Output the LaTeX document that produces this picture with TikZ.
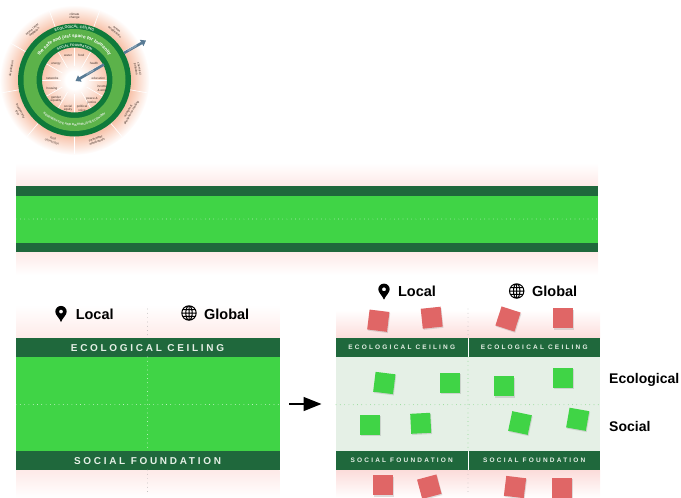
\documentclass[tikz,border=0pt]{standalone}
\usepackage{fontspec}
\setmainfont{Liberation Sans}
\usetikzlibrary{arrows.meta}
\usetikzlibrary{decorations.text}
\usetikzlibrary{shadows}
\definecolor{mydarkgreen}{RGB}{31,104,60}
\definecolor{mygreen}{RGB}{64,212,70}
\definecolor{mypalegreen}{RGB}{229,240,230}
\definecolor{mydotgreen}{RGB}{90,205,95}
\definecolor{myred}{RGB}{224,102,102}
\definecolor{mypink}{RGB}{254,234,232}
\definecolor{mydeeppink}{RGB}{252,220,218}
\definecolor{myringdark}{RGB}{15,122,58}
\definecolor{myringmid}{RGB}{92,178,74}
\definecolor{mypetal}{RGB}{248,196,172}
\definecolor{myarrow}{RGB}{88,122,148}
\definecolor{mylabel}{RGB}{70,52,44}
\definecolor{mybanner}{RGB}{230,240,230}
\pgfdeclareradialshading{petalglow}{\pgfpointorigin}{color(0bp)=(white); color(3bp)=(white); color(11bp)=(mypetal); color(19bp)=(mypetal); color(25bp)=(white)}
\newcommand{\widthpanel}{264}
\newcommand{\widthcell}{131.5}
\newcommand{\heightbanner}{18.6}
\newcommand{\sizesquare}{20}
\tikzset{
    x=1pt, y=1pt,
    common/.style={draw=none, rectangle, inner sep=0pt, outer sep=0pt},
    banner/.style={common, fill=mydarkgreen, text=mybanner, minimum height=\heightbanner},
    bigbanner/.style={banner, minimum width=\widthpanel, font=\addfontfeature{LetterSpace=27}\fontsize{10}{10}\selectfont\bfseries},
    smallbanner/.style={banner, minimum width=\widthcell, font=\addfontfeature{LetterSpace=34}\fontsize{6.5}{6.5}\selectfont\bfseries},
    strip/.style={common, fill=mydarkgreen, minimum width=582, minimum height=9.6},
    field/.style={common, fill=mygreen},
    square/.style={common, minimum size=\sizesquare, drop shadow={shadow xshift=.8, shadow yshift=-1.2, opacity=.25}},
    redsquare/.style={square, fill=myred},
    greensquare/.style={square, fill=mygreen},
    heading/.style={inner sep=0pt, font=\fontsize{14.5}{14.5}\selectfont\bfseries},
    gridline/.style={line width=.7, line cap=round, dash pattern=on 0pt off 4.3},
    petallabel/.style={inner sep=0pt, align=center, text=mylabel, font=\fontsize{3.1}{3.5}\selectfont},
    pics/pinmark/.style={code={
        \fill[even odd rule] (0,-8) .. controls (-1.5,-4) and (-5.7,-1) .. (-5.7,2.4) arc (180:0:5.7) .. controls (5.7,-1) and (1.5,-4) .. (0,-8) (0,2.4) circle (2);
    }},
    pics/globemark/.style={code={
        \draw[line width=1] (0,0) circle (7.2) (0,0) ellipse (3.2 and 7.2) (0,-7.2) -- (0,7.2)
            (-7.2,0) -- (7.2,0) (-6.3,3.3) -- (6.3,3.3) (-6.3,-3.3) -- (6.3,-3.3);
    }},
    ringtext/.style args={#1/#2}{postaction={decorate, decoration={text along path, text align=center, text={|#1|#2}}}},
}
\begin{document}
\begin{tikzpicture}
    \useasboundingbox (0,0) rectangle (681,-498);

    % doughnut
    \begin{scope}[shift={(74.5,-80)}]
        \shade[shading=petalglow] (0,0) circle (75);
        \foreach \a in {110,70,...,-210} {
            \draw[white, line width=.6] (\a:56) -- (\a:74);
        }
        \foreach \a in {0,30,...,330} {
            \draw[white, line width=.6] (\a:14) -- (\a:33);
        }
        \fill[myringdark, even odd rule] (0,0) circle (56.5) (0,0) circle (32.5);
        \fill[myringmid, even odd rule] (0,0) circle (51) (0,0) circle (38);
        \path[ringtext={\fontsize{3.6}{3.6}\selectfont\bfseries\color{mybanner}/ECOLOGICAL CEILING}] (130:52) arc (130:50:52);
        \path[ringtext={\fontsize{4.7}{4.7}\selectfont\bfseries\color{white}/the safe and just space for humanity}] (150:42.5) arc (150:30:42.5);
        \path[ringtext={\fontsize{3.3}{3.3}\selectfont\bfseries\color{mybanner}/SOCIAL FOUNDATION}] (130:33.6) arc (130:50:33.6);
        \path[ringtext={\fontsize{3}{3}\selectfont\bfseries\color{mybanner}/REGENERATIVE AND DISTRIBUTIVE ECONOMY}] (215:46) arc (215:325:46);
        \foreach \a/\r/\n/\t in {90/0/climate/{climate\\change}, 50/-40/ocean/{ocean\\acidification}, 10/-80/chemical/{chemical\\pollution},
            -30/60/nitrogen/{nitrogen \&\\phosphorus loading}, -70/20/freshwater/{freshwater\\withdrawals}, -110/-20/land/{land\\conversion},
            -150/-60/biodiversity/{biodiversity\\loss}, 170/80/air/{air pollution}, 130/40/ozone/{ozone layer\\depletion}} {
            \node[petallabel, rotate=\r] (\n) at (\a:64) {\t};
        }
    \end{scope}
    \foreach \x/\y/\n/\t in {68/55.3/water/water, 81.3/55.3/food/food, 94/63.3/health/health, 98.3/78.3/education/education,
        102.3/88.3/income/{income\\\& work}, 92/100.7/peace/{peace \&\\justice}, 82/108.3/voice/{political\\voice}, 68/108.3/equity/{social\\equity},
        56/99.3/gender/{gender\\equality}, 52/88.3/housing/housing, 52.3/78/networks/networks, 56/64/energy/energy} {
        \node[petallabel] (\n) at (\x,-\y) {\t};
    }
    \coordinate (shortfallstart) at (104,-64.5);
    \coordinate (shortfallend) at (75.5,-81);
    \coordinate (overshootstart) at (124,-53);
    \coordinate (overshootend) at (146,-40.5);
    \draw[myarrow, line width=2.6, -{Triangle[length=5,width=7]}] (shortfallstart) -- (shortfallend);
    \draw[myarrow, line width=2.6, -{Triangle[length=5,width=7]}] (overshootstart) -- (overshootend);
    \node[inner sep=0pt, rotate=30, text=white, font=\fontsize{2.4}{2.4}\selectfont] (shortfall) at (90,-72.5) {shortfall};
    \node[inner sep=0pt, rotate=30, text=white, font=\fontsize{2.4}{2.4}\selectfont] (overshoot) at (132,-48.5) {overshoot};

    % long band
    \path[top color=white, bottom color=mypink] (16,-163) rectangle (598,-186);
    \path[top color=mypink, bottom color=white] (16,-252) rectangle (598,-275);
    \node[field, minimum width=582, minimum height=47] (longfield) at (307,-219.5) {};
    \node[strip] (longtop) at (307,-191) {};
    \node[strip] (longbottom) at (307,-247.5) {};
    \coordinate (longwest) at (16,-219);
    \coordinate (longeast) at (598,-219);
    \draw[gridline, white] (longwest) -- (longeast);

    % left panel
    \path[top color=white, bottom color=mypink] (16,-305) rectangle (279.5,-339);
    \path[top color=mypink, bottom color=white] (16,-470) rectangle (279.5,-498);
    \node[field, minimum width=\widthpanel, minimum height=95] (leftfield) at (147.5,-404) {};
    \node[bigbanner] (leftceiling) at (147.5,-347.7) {ECOLOGICAL CEILING};
    \node[bigbanner] (leftfoundation) at (147.5,-460.7) {SOCIAL FOUNDATION};
    \pic at (61,-314) {pinmark};
    \pic at (189,-313) {globemark};
    \node[heading] (leftlocal) at (94.7,-314) {Local};
    \node[heading] (leftglobal) at (226.7,-314) {Global};
    \coordinate (lefttop) at (147.5,-309);
    \coordinate (leftlow) at (147.5,-495);
    \coordinate (leftwest) at (16,-404.5);
    \coordinate (lefteast) at (279,-404.5);
    \draw[gridline, gray!70] (lefttop) -- (leftceiling.north);
    \draw[gridline, white] (leftceiling.south) -- (leftfoundation.north);
    \draw[gridline, gray!70] (leftfoundation.south) -- (leftlow);
    \draw[gridline, white] (leftwest) -- (lefteast);

    \coordinate (stepstart) at (289,-404);
    \coordinate (stepend) at (321.5,-404);
    \draw[line width=1.5, -{Triangle[length=18,width=14]}] (stepstart) -- (stepend);

    % right panel
    \path[top color=white, bottom color=mydeeppink] (336,-310) rectangle (600,-338.5);
    \path[top color=mydeeppink, bottom color=white] (336,-470) rectangle (600,-498);
    \node[common, fill=mypalegreen, minimum width=\widthpanel, minimum height=95] (rightfield) at (468,-404) {};
    \node[smallbanner] (localceiling) at (401.75,-347.7) {ECOLOGICAL CEILING};
    \node[smallbanner] (globalceiling) at (534.25,-347.7) {ECOLOGICAL CEILING};
    \node[smallbanner] (localfoundation) at (401.75,-460.7) {SOCIAL FOUNDATION};
    \node[smallbanner] (globalfoundation) at (534.25,-460.7) {SOCIAL FOUNDATION};
    \pic at (384,-291.7) {pinmark};
    \pic at (516.7,-291) {globemark};
    \node[heading] (rightlocal) at (417,-291.7) {Local};
    \node[heading] (rightglobal) at (554.7,-291.7) {Global};
    \node[heading, anchor=west, font=\fontsize{14}{14}\selectfont\bfseries] (ecological) at (609,-380) {Ecological};
    \node[heading, anchor=west, font=\fontsize{14}{14}\selectfont\bfseries] (social) at (609,-426.7) {Social};
    \coordinate (righttop) at (468,-309);
    \coordinate (rightupper) at (468,-357);
    \coordinate (rightlower) at (468,-451);
    \coordinate (rightlow) at (468,-495);
    \coordinate (rightwest) at (336,-404.7);
    \coordinate (righteast) at (600,-404.7);
    \draw[gridline, gray!70] (righttop) -- (468,-338);
    \draw[gridline, mydotgreen] (rightupper) -- (rightlower);
    \draw[gridline, gray!70] (468,-470) -- (rightlow);
    \draw[gridline, mydotgreen] (rightwest) -- (righteast);

    \foreach \x/\y/\a/\n in {378.3/320.7/-7/ra, 431.7/317.7/6/rb, 508/319/-18/rc, 562.7/318.3/0/rd,
        383/485.3/0/re, 429.3/486.7/15/rf, 515/487/-7/rg, 562/487.7/0/rh} {
        \node[redsquare, rotate=\a] (\n) at (\x,-\y) {};
    }
    \foreach \x/\y/\a/\n in {384.3/383/-7/ga, 450.3/383/0/gb, 503.7/386.3/0/gc, 563/377.7/0/gd,
        370/424.7/0/ge, 420.7/423.3/3/gf, 520/423/-12/gg, 577.7/419.3/-10/gh} {
        \node[greensquare, rotate=\a] (\n) at (\x,-\y) {};
    }
\end{tikzpicture}
\end{document}
